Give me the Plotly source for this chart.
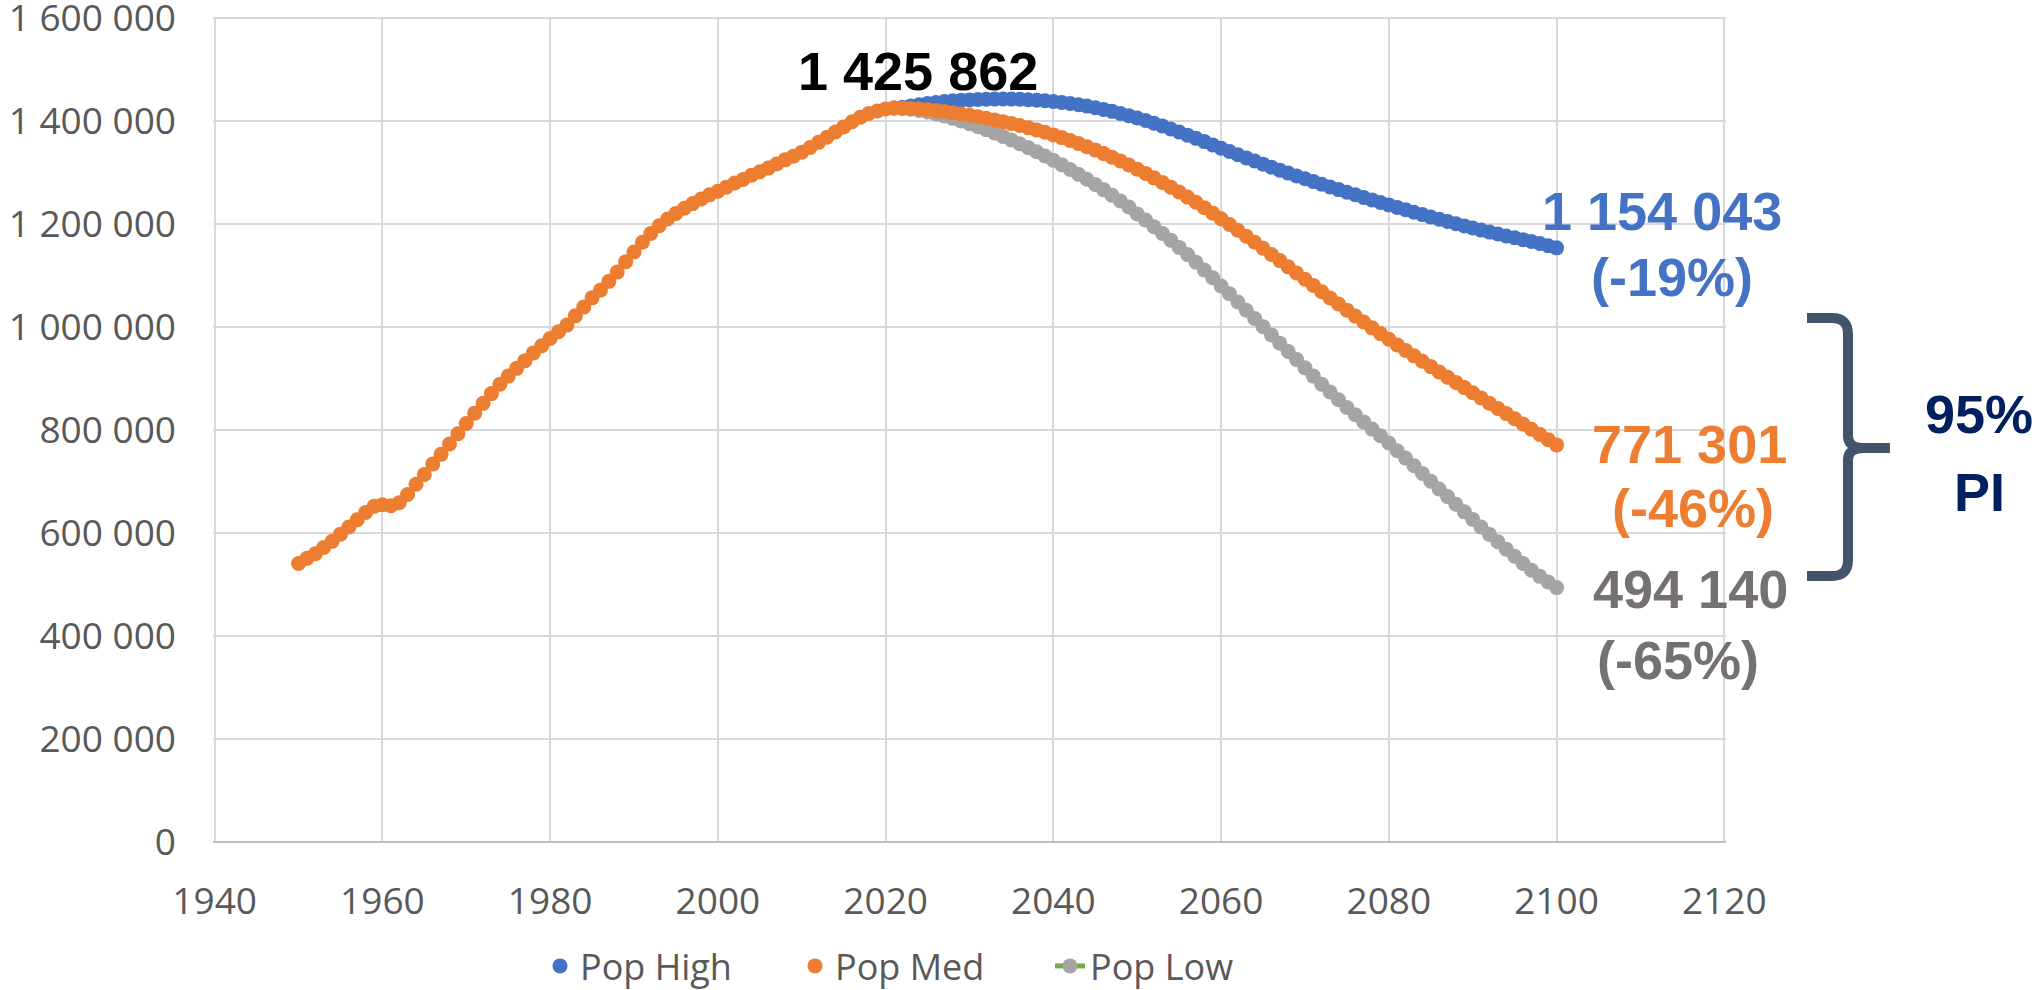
import plotly.graph_objects as go

# ---------------- data (thousands) ----------------
years_med = list(range(1950, 2101))
pop_med = [
    541000, 551000, 560000, 572000, 584000, 598000, 612000, 626000, 640000, 652000,
    655000, 653000, 659000, 675000, 695000, 714000, 734000, 753000, 773000, 793000,
    813000, 833000, 852000, 871000, 889000, 905000, 920000, 935000, 950000, 964000,
    978000, 991000, 1004000, 1022000, 1039000, 1057000, 1072000, 1089000, 1107000, 1127000,
    1146000, 1165000, 1182000, 1197000, 1210000, 1221000, 1231000, 1240000, 1249000, 1257000,
    1264000, 1272000, 1280000, 1287000, 1295000, 1302000, 1309000, 1317000, 1325000, 1332000,
    1340000, 1349000, 1359000, 1369000, 1379000, 1389000, 1399000, 1408000, 1415000, 1420000,
    1424000, 1425862, 1425500, 1425000, 1424000, 1422500, 1420800, 1418800, 1416600, 1414200,
    1411600, 1408800, 1405800, 1402600, 1399200, 1395600, 1391700, 1387600, 1383200, 1378500,
    1373500, 1368200, 1362600, 1356700, 1350500, 1344000, 1337200, 1330100, 1322700, 1315000,
    1307000, 1298700, 1290100, 1281200, 1272000, 1262500, 1252700, 1242600, 1232200, 1221500,
    1210600, 1199500, 1188200, 1176700, 1165000, 1153200, 1141300, 1129300, 1117200, 1105100,
    1093000, 1080900, 1068800, 1056800, 1044900, 1033100, 1021500, 1010000, 998700, 987500,
    976500, 965600, 954900, 944300, 933800, 923400, 913100, 902900, 892700, 882600,
    872500, 862400, 852300, 842200, 832100, 822000, 811900, 801800, 791700, 781500,
    771301,
]

years_proj = list(range(2021, 2101))
pop_high = [
    1425862, 1427000, 1429500, 1432000, 1434500, 1436500, 1438200, 1439600, 1440700, 1441500,
    1442200, 1442700, 1443000, 1443100, 1443000, 1442600, 1441900, 1441000, 1439800, 1438400,
    1436600, 1434500, 1432100, 1429400, 1426300, 1422900, 1419200, 1415200, 1410900, 1406300,
    1401400, 1396200, 1390700, 1385000, 1379100, 1373000, 1366800, 1360500, 1354100, 1347700,
    1341300, 1335000, 1328800, 1322700, 1316700, 1310800, 1305000, 1299300, 1293700, 1288200,
    1282800, 1277500, 1272300, 1267200, 1262100, 1257100, 1252100, 1247200, 1242300, 1237500,
    1232700, 1228000, 1223300, 1218700, 1214100, 1209600, 1205200, 1200900, 1196700, 1192600,
    1188600, 1184700, 1180900, 1177200, 1173600, 1170000, 1166400, 1162500, 1158300, 1154043,
]
pop_low = [
    1425862, 1425000, 1423500, 1421000, 1418000, 1414300, 1410200, 1405600, 1400600, 1395200,
    1389500, 1383500, 1377200, 1370600, 1363700, 1356400, 1348800, 1340900, 1332700, 1324200,
    1315400, 1306300, 1296900, 1287200, 1277200, 1266800, 1256100, 1245000, 1233600, 1220000,
    1208000, 1195000, 1182000, 1169000, 1155000, 1141000, 1126000, 1111000, 1096000, 1080000,
    1065000, 1049000, 1033000, 1017000, 1001000, 985000, 969000, 953000, 937000, 921000,
    905000, 889000, 874000, 859000, 844000, 830000, 816000, 802000, 789000, 775000,
    760000, 745700, 730700, 715700, 700700, 685800, 670900, 656100, 641300, 626600,
    612000, 597500, 583100, 568800, 555000, 541000, 528000, 516000, 505000, 494140,
]

x_ticks = [1940, 1960, 1980, 2000, 2020, 2040, 2060, 2080, 2100, 2120]
y_ticks = [0, 200000, 400000, 600000, 800000, 1000000, 1200000, 1400000, 1600000]

# ---------------- layout geometry (pixels) ----------------
W, H = 2039, 990
L, R, T, B = 213, 1726, 17, 842   # plot area, slightly padded so edge gridlines are kept


def px(x):
    return (x - L) / (R - L)


def py(y):
    return (B - y) / (B - T)


BLUE = "#4472C4"
ORANGE = "#ED7D31"
GREY = "#A5A5A5"
GREEN = "#70AD47"
GREY_TXT = "#767171"
NAVY = "#002060"
SLATE = "#44546A"
TICK = "#595959"
FONT = "Open Sans"
BOLD_FONT = "Liberation Sans"
MS = 15

fig = go.Figure()
fig.add_trace(go.Scatter(
    x=years_proj, y=pop_high, name="Pop High", mode="markers",
    marker=dict(color=BLUE, size=MS), legendrank=1,
))
fig.add_trace(go.Scatter(
    x=years_proj, y=pop_low, name="Pop Low", mode="lines+markers",
    line=dict(color=GREEN, width=5), marker=dict(color=GREY, size=MS), legendrank=3,
))
fig.add_trace(go.Scatter(
    x=years_med, y=pop_med, name="Pop Med", mode="markers",
    marker=dict(color=ORANGE, size=MS), legendrank=2,
))

ann = []


def add_text(text, cx, cy, color, size=54):
    ann.append(dict(
        text="<b>" + text + "</b>", x=px(cx), y=py(cy), xref="paper", yref="paper",
        xanchor="center", yanchor="middle", showarrow=False,
        font=dict(family=BOLD_FONT, size=size, color=color),
    ))


add_text("1 425 862", 918, 71, "#000000")
add_text("1 154 043", 1662, 211, BLUE)
add_text("(-19%)", 1672, 277, BLUE)
add_text("771 301", 1689, 444, ORANGE)
add_text("(-46%)", 1693, 508, ORANGE)
add_text("494 140", 1690, 589, GREY_TXT)
add_text("(-65%)", 1678, 660, GREY_TXT)
add_text("95%", 1979, 414, NAVY)
add_text("PI", 1979, 492, NAVY)

# right curly brace
pts = [
    ("M", (1807, 318)), ("L", (1832, 318)), ("Q", (1848, 318), (1848, 334)),
    ("L", (1848, 436)), ("Q", (1848, 448), (1864, 448)), ("L", (1890, 448)),
    ("M", (1864, 448)), ("Q", (1848, 448), (1848, 460)), ("L", (1848, 560)),
    ("Q", (1848, 576), (1832, 576)), ("L", (1807, 576)),
]
path = ""
for item in pts:
    cmd = item[0]
    coords = " ".join(f"{px(a):.5f},{py(b):.5f}" for a, b in item[1:])
    path += f"{cmd} {coords} "

fig.update_layout(
    width=W, height=H,
    margin=dict(l=L, r=W - R, t=T, b=H - B, autoexpand=False),
    paper_bgcolor="white", plot_bgcolor="white",
    separators=". ",
    font=dict(family=FONT, size=37, color=TICK),
    showlegend=True,
    legend=dict(
        orientation="h", x=px(540), xanchor="left", y=py(966), yanchor="middle",
        font=dict(family=FONT, size=36, color=TICK),
        entrywidth=210, entrywidthmode="pixels", bgcolor="rgba(0,0,0,0)",
        traceorder="normal",
    ),
    xaxis=dict(
        range=[1939.8, 2120.2], tickvals=x_ticks, showgrid=True, gridcolor="#D9D9D9",
        gridwidth=2, zeroline=False, showline=False, ticks="", automargin=False,
        tickfont=dict(family=FONT, size=37, color=TICK), ticklabelstandoff=34,
        ticklabeloverflow="allow",
    ),
    yaxis=dict(
        range=[0, 1602500], tickvals=y_ticks, tickformat=",d", showgrid=True,
        gridcolor="#D9D9D9", gridwidth=2, zeroline=True, zerolinecolor="#BFBFBF",
        zerolinewidth=2, showline=False, ticks="", automargin=False,
        tickfont=dict(family=FONT, size=37, color=TICK), ticklabelstandoff=36,
        ticklabeloverflow="allow",
    ),
    annotations=ann,
    shapes=[dict(type="path", path=path.strip(), xref="paper", yref="paper",
                 line=dict(color=SLATE, width=10))],
)

fig.write_html(
    "out.html",
    config={"displayModeBar": False},
    post_script="document.body.style.margin='0';document.body.style.padding='0';"
                "document.body.style.overflow='hidden';",
)
